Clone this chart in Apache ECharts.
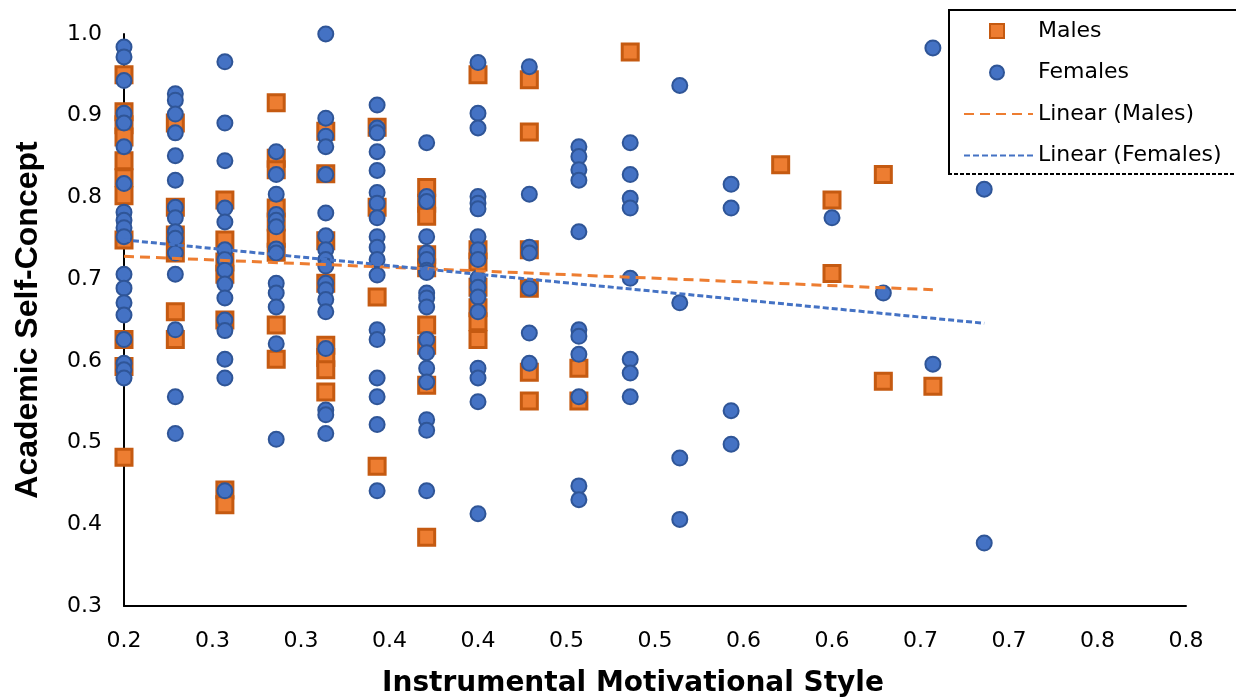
<!DOCTYPE html>
<html>
<head>
<meta charset="utf-8">
<title>Academic Self-Concept</title>
<script src="https://cdn.jsdelivr.net/npm/echarts@6.0.0/dist/echarts.min.js"></script>
<style>
html,body{margin:0;padding:0;background:#fff;}
#main{width:1236px;height:698px;}
</style>
</head>
<body>
<div id="main"></div>
<script>
// answer levels on the x axis (one column of points per level)
var xLevels = [0.2, 0.229, 0.257, 0.286, 0.314, 0.343, 0.371, 0.4, 0.429,
               0.457, 0.486, 0.514, 0.543, 0.571, 0.6, 0.629, 0.657, 0.686];

var xTickLabels = ['0.2','0.3','0.3','0.4','0.4','0.5','0.5','0.6','0.6','0.7','0.7','0.8','0.8'];
var yTickLabels = ['0.3','0.4','0.5','0.6','0.7','0.8','0.9','1.0'];

// self-concept values, one list per x level
var maleY = [
    [0.950, 0.905, 0.889, 0.874, 0.845, 0.824, 0.802, 0.748, 0.626, 0.593, 0.482],
    [0.891, 0.788, 0.754, 0.732, 0.660, 0.626],
    [0.797, 0.748, 0.721, 0.706, 0.650, 0.442, 0.424],
    [0.916, 0.848, 0.834, 0.787, 0.770, 0.750, 0.733, 0.644, 0.602],
    [0.881, 0.829, 0.747, 0.695, 0.619, 0.604, 0.589, 0.562],
    [0.886, 0.788, 0.678, 0.471],
    [0.812, 0.793, 0.777, 0.730, 0.714, 0.644, 0.619, 0.570, 0.384],
    [0.950, 0.736, 0.721, 0.690, 0.665, 0.648, 0.626],
    [0.944, 0.880, 0.736, 0.689, 0.586, 0.551],
    [0.591, 0.551],
    [0.978],
    [],
    [],
    [0.840],
    [0.797, 0.707],
    [0.828, 0.575],
    [0.569],
    []
];

var femaleY = [
    [0.984, 0.972, 0.943, 0.903, 0.891, 0.862, 0.817, 0.782, 0.772, 0.763, 0.752, 0.706, 0.689, 0.671, 0.656, 0.626, 0.597, 0.589, 0.579],
    [0.927, 0.919, 0.902, 0.879, 0.851, 0.821, 0.788, 0.775, 0.758, 0.750, 0.732, 0.706, 0.638, 0.556, 0.511],
    [0.966, 0.891, 0.845, 0.787, 0.770, 0.736, 0.724, 0.711, 0.694, 0.677, 0.650, 0.637, 0.602, 0.579, 0.441],
    [0.856, 0.828, 0.804, 0.779, 0.772, 0.764, 0.737, 0.732, 0.695, 0.683, 0.666, 0.621, 0.504],
    [1.000, 0.897, 0.875, 0.862, 0.828, 0.781, 0.753, 0.736, 0.724, 0.716, 0.695, 0.687, 0.675, 0.660, 0.615, 0.540, 0.534, 0.511],
    [0.913, 0.885, 0.879, 0.856, 0.833, 0.806, 0.793, 0.775, 0.752, 0.739, 0.724, 0.705, 0.638, 0.626, 0.579, 0.556, 0.522, 0.441],
    [0.867, 0.801, 0.795, 0.752, 0.732, 0.724, 0.711, 0.708, 0.683, 0.677, 0.666, 0.626, 0.610, 0.591, 0.574, 0.528, 0.515, 0.441],
    [0.965, 0.903, 0.885, 0.801, 0.793, 0.786, 0.752, 0.736, 0.724, 0.701, 0.690, 0.678, 0.660, 0.591, 0.579, 0.550, 0.413],
    [0.960, 0.804, 0.739, 0.732, 0.689, 0.634, 0.597],
    [0.862, 0.850, 0.834, 0.821, 0.758, 0.638, 0.630, 0.608, 0.556, 0.447, 0.430],
    [0.867, 0.828, 0.799, 0.787, 0.701, 0.602, 0.585, 0.556],
    [0.937, 0.671, 0.481, 0.406],
    [0.816, 0.787, 0.539, 0.498],
    [],
    [0.775],
    [0.683],
    [0.983, 0.596],
    [0.810, 0.377]
];

// trendline ends
var maleTrendX = [0.2, 0.657];
var maleTrendY = [0.728, 0.687];
var femaleTrendX = [0.2, 0.686];
var femaleTrendY = [0.748, 0.646];

function toPoints(levels, cols){
    var pts = [];
    for(var i=0; i<cols.length; i++){
        for(var j=0; j<cols[i].length; j++){
            pts.push([levels[i], cols[i][j]]);
        }
    }
    return pts;
}
function pairUp(xs, ys){
    var pts = [];
    for(var i=0; i<xs.length; i++) pts.push([xs[i], ys[i]]);
    return pts;
}

var labelFont = 'DejaVu Sans';
var legendText = {fontFamily: labelFont, fontSize: 22, color: '#000', lineHeight: 22};
var myChart = echarts.init(document.getElementById('main'));
var option = {
    animation: false,
    backgroundColor: '#fff',
    grid: {left: 124, right: 50, top: 34, bottom: 92, outerBoundsMode: 'none'},
    // legend frame (solid top/left, dashed bottom like the source)
    graphic: [
        {type: 'rect', z: 3, shape: {x: 948, y: 10, width: 300, height: 164}, style: {fill: '#fff', stroke: null}},
        {type: 'polyline', z: 3, shape: {points: [[949, 174], [949, 10], [1240, 10]]}, style: {stroke: '#000', lineWidth: 2, fill: null}},
        {type: 'line', z: 3, shape: {x1: 948, y1: 174, x2: 1240, y2: 174}, style: {stroke: '#000', lineWidth: 2, lineDash: [4, 2]}}
    ],
    legend: [
        {
            orient: 'vertical',
            left: 989, top: 20, padding: 0, z: 5,
            itemWidth: 14, itemHeight: 14, itemGap: 19.5,
            textStyle: echarts.util.extend({padding: [0, 0, 0, 29]}, legendText),
            data: ['Males', 'Females']
        },
        {
            orient: 'vertical',
            left: 963, top: 103, padding: 0, z: 5,
            itemWidth: 69, itemHeight: 14, itemGap: 19.5,
            textStyle: legendText,
            data: [
                {name: 'Linear (Males)', itemStyle: {opacity: 0}},
                {name: 'Linear (Females)', itemStyle: {opacity: 0}}
            ]
        }
    ],
    xAxis: {
        type: 'value',
        min: 0.2, max: 0.8, interval: 0.05,
        name: 'Instrumental Motivational Style',
        nameLocation: 'middle',
        nameGap: 64,
        nameTextStyle: {fontFamily: labelFont, fontWeight: 'bold', fontSize: 28, color: '#000', padding: [0, 44, 0, 0]},
        axisLine: {lineStyle: {color: '#000', width: 2}},
        axisTick: {show: false},
        splitLine: {show: false},
        axisLabel: {
            margin: 24,
            fontFamily: labelFont, fontSize: 22, color: '#000',
            formatter: function(v){ return xTickLabels[Math.round((v - 0.2) / 0.05)]; }
        }
    },
    yAxis: {
        type: 'value',
        min: 0.3, max: 1.0, interval: 0.1,
        name: 'Academic Self-Concept',
        nameLocation: 'middle',
        nameGap: 80,
        nameTextStyle: {fontFamily: 'Liberation Sans', fontWeight: 'bold', fontSize: 32, color: '#000'},
        axisLine: {show: true, lineStyle: {color: '#000', width: 2}},
        axisTick: {show: false},
        splitLine: {show: false},
        axisLabel: {
            margin: 22,
            fontFamily: labelFont, fontSize: 22, color: '#000',
            formatter: function(v){ return yTickLabels[Math.round((v - 0.3) / 0.1)]; }
        }
    },
    series: [
        {
            name: 'Males',
            type: 'scatter',
            symbol: 'rect',
            symbolSize: 16,
            itemStyle: {color: '#ED7D31', borderColor: '#C55A11', borderWidth: 3, opacity: 1},
            data: toPoints(xLevels, maleY)
        },
        {
            name: 'Females',
            type: 'scatter',
            symbol: 'circle',
            symbolSize: 15,
            itemStyle: {color: '#4472C4', borderColor: '#2F5597', borderWidth: 2, opacity: 1},
            data: toPoints(xLevels, femaleY)
        },
        {
            name: 'Linear (Males)',
            type: 'line',
            symbol: 'none',
            itemStyle: {color: '#ED7D31'},
            lineStyle: {color: '#ED7D31', width: 3, type: [10, 6]},
            data: pairUp(maleTrendX, maleTrendY)
        },
        {
            name: 'Linear (Females)',
            type: 'line',
            symbol: 'none',
            itemStyle: {color: '#4472C4'},
            lineStyle: {color: '#4472C4', width: 3, type: [6, 3]},
            data: pairUp(femaleTrendX, femaleTrendY)
        }
    ]
};
myChart.setOption(option);
</script>
</body>
</html>
